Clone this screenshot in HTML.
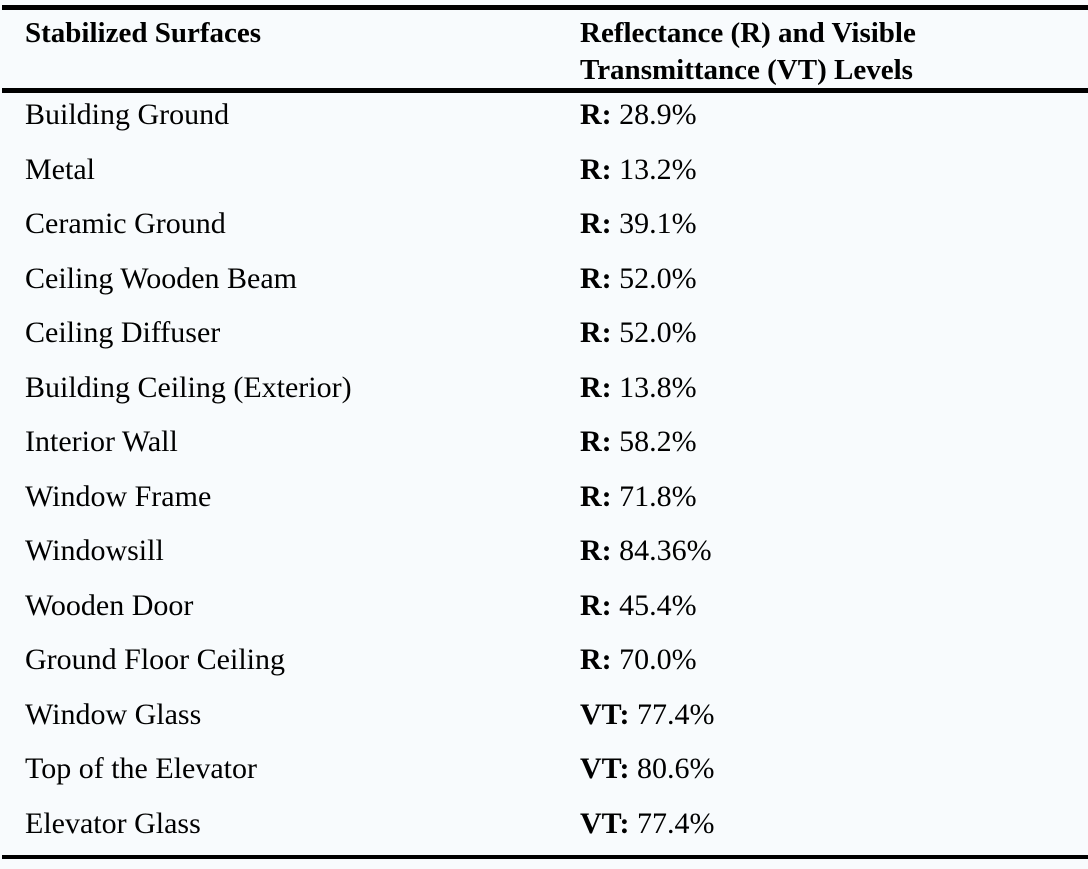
<!DOCTYPE html>
<html><head><meta charset="utf-8"><style>
html,body{margin:0;padding:0;}
body{width:1088px;height:869px;background:#f8fbfd;position:relative;overflow:hidden;font-family:"Liberation Serif",serif;color:#000;}
.rule{position:absolute;left:2px;right:0;background:#000;}
.t{position:absolute;font-size:30px;line-height:30px;white-space:nowrap;}
.h{position:absolute;font-size:29px;line-height:29px;font-weight:bold;white-space:nowrap;}
b{font-weight:bold;}
</style></head><body>
<div class="rule" style="top:5px;height:5px"></div>
<div class="rule" style="top:88px;height:5px"></div>
<div class="rule" style="top:855px;height:4px"></div>
<div class="h" style="left:25px;top:19px">Stabilized Surfaces</div>
<div class="h" style="left:580px;top:19px">Reflectance (R) and Visible</div>
<div class="h" style="left:580px;top:56px">Transmittance (VT) Levels</div>
<div id="rows"></div>
<script>
const surfaces=["Building Ground","Metal","Ceramic Ground","Ceiling Wooden Beam","Ceiling Diffuser","Building Ceiling (Exterior)","Interior Wall","Window Frame","Windowsill","Wooden Door","Ground Floor Ceiling","Window Glass","Top of the Elevator","Elevator Glass"];
const kinds=["R","R","R","R","R","R","R","R","R","R","R","VT","VT","VT"];
const values=["28.9%","13.2%","39.1%","52.0%","52.0%","13.8%","58.2%","71.8%","84.36%","45.4%","70.0%","77.4%","80.6%","77.4%"];
const c=document.getElementById('rows');
surfaces.forEach((s,i)=>{
  const top=100+i*54.5;
  const a=document.createElement('div');
  a.className='t';a.style.left='25px';a.style.top=top+'px';a.textContent=s;
  
  
  c.appendChild(a);
  const b=document.createElement('div');
  b.className='t';b.style.left='580px';b.style.top=top+'px';
  b.innerHTML='<b>'+kinds[i]+':</b> '+values[i];
  
  
  c.appendChild(b);
});
</script>
</body></html>
